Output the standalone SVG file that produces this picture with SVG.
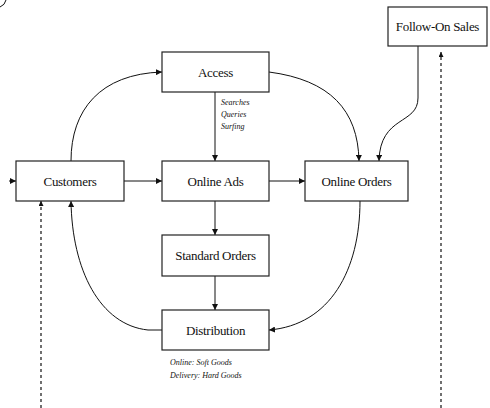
<svg xmlns="http://www.w3.org/2000/svg" width="490" height="408" viewBox="0 0 490 408">
<style>
.box{fill:#fff;stroke:#222;stroke-width:1.2}
.lbl{font-family:"Liberation Serif",serif;font-size:13px;fill:#111;text-anchor:middle;letter-spacing:-0.3px}
.note{font-family:"Liberation Serif",serif;font-style:italic;font-size:8px;fill:#111}
.ln{fill:none;stroke:#111;stroke-width:1}
.dash{fill:none;stroke:#111;stroke-width:1.2;stroke-dasharray:3,3}
</style>
<defs>
<marker id="ah" viewBox="0 0 10 10" refX="10" refY="5" markerWidth="6" markerHeight="6" orient="auto" markerUnits="userSpaceOnUse">
<path d="M0,0 L10,5 L0,10 z" fill="#111"/>
</marker>
<marker id="ahs" viewBox="0 0 10 10" refX="10" refY="5" markerWidth="5" markerHeight="5" orient="auto" markerUnits="userSpaceOnUse">
<path d="M0,0 L10,5 L0,10 z" fill="#111"/>
</marker>
</defs>
<path class="ln" d="M0,7 Q5,5 6,0"/>
<g id="connectors">
<path class="ln" d="M215,92 V161" marker-end="url(#ah)"/>
<path class="ln" d="M215,201 V235" marker-end="url(#ah)"/>
<path class="ln" d="M215,276 V310" marker-end="url(#ah)"/>
<path class="ln" d="M124,181 H162" marker-end="url(#ah)"/>
<path class="ln" d="M269,181 H305" marker-end="url(#ah)"/>
<path class="ln" d="M9,181 H16" marker-end="url(#ah)"/>
<path class="ln" d="M71,161 C71,110 100,74 162,72" marker-end="url(#ah)"/>
<path class="ln" d="M269,72 C330,80 358,110 359,161" marker-end="url(#ah)"/>
<path class="ln" d="M418,46 V98 C418,125 380,115 379,161" marker-end="url(#ah)"/>
<path class="ln" d="M360,201 C360,270 330,325 269,330" marker-end="url(#ah)"/>
<path class="ln" d="M162,330 H148 C100,325 72,270 71,201" marker-end="url(#ah)"/>
<path class="dash" d="M41,408 V201" marker-end="url(#ahs)"/>
<path class="dash" d="M441,408 V52" marker-end="url(#ahs)"/>
</g>
<g id="access"><rect class="box" x="162" y="52" width="107" height="40"/><text class="lbl" x="215.5" y="76.5">Access</text></g>
<g id="customers"><rect class="box" x="16" y="161" width="108" height="40"/><text class="lbl" x="70" y="185.5">Customers</text></g>
<g id="online-ads"><rect class="box" x="162" y="161" width="107" height="40"/><text class="lbl" x="215.5" y="185.5">Online Ads</text></g>
<g id="online-orders"><rect class="box" x="305" y="161" width="103" height="40"/><text class="lbl" x="356.5" y="185.5">Online Orders</text></g>
<g id="follow-on-sales"><rect class="box" x="388" y="7" width="99" height="39"/><text class="lbl" x="437.5" y="31">Follow-On Sales</text></g>
<g id="standard-orders"><rect class="box" x="162" y="235" width="107" height="41"/><text class="lbl" x="215.5" y="260">Standard Orders</text></g>
<g id="distribution"><rect class="box" x="162" y="310" width="107" height="40"/><text class="lbl" x="215.5" y="334.5">Distribution</text></g>
<g id="notes">
<text class="note" x="221" y="105">Searches</text>
<text class="note" x="221" y="117">Queries</text>
<text class="note" x="221" y="129">Surfing</text>
<text class="note" x="170" y="365">Online: Soft Goods</text>
<text class="note" x="170" y="378">Delivery: Hard Goods</text>
</g>
</svg>
